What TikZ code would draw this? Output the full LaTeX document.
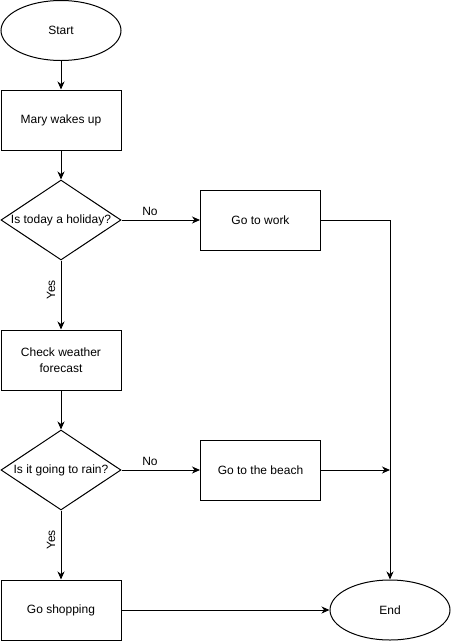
\documentclass[tikz,border=0pt]{standalone}
\usepackage{fontspec}
\setmainfont{Liberation Sans}
\usetikzlibrary{shapes.geometric,arrows.meta}
\begin{document}
\begin{tikzpicture}[x=1pt,y=-1pt,
  every node/.style={font=\fontsize{12}{14}\selectfont},
  box/.style={draw,line width=1pt,minimum width=120pt,minimum height=60pt,inner sep=0pt,align=center},
  term/.style={draw,ellipse,line width=1pt,minimum width=120pt,minimum height=60pt,inner sep=0pt},
  dia/.style={draw,diamond,line width=1pt,minimum width=120pt,minimum height=80pt,inner sep=0pt,aspect=1.5},
  conn/.style={line width=1pt,-{Stealth[length=8pt,width=7pt,inset=2.5pt]}},
  lbl/.style={inner sep=0pt}]
\useasboundingbox (0,0) rectangle (451,641);
\node[term] (start) at (61,30.5) {Start};
\node[box] (mary) at (61,120) {Mary wakes up};
\node[dia] (d1) at (61,220) {};
\node at (d1) {Is today a holiday?};
\node[box] (work) at (260.5,220) {Go to work};
\node[box] (check) at (61,360) {Check weather\\[2pt]forecast};
\node[dia] (d2) at (61,470) {};
\node at (d2) {Is it going to rain?};
\node[box] (beach) at (260.5,470) {Go to the beach};
\node[box] (shop) at (61,610) {Go shopping};
\node[term] (end) at (390,610) {End};
\coordinate (c1) at (390,220);
\coordinate (c2) at (390,470);
\draw[conn] (start) -- (mary);
\draw[conn] (mary) -- (d1);
\draw[conn] (d1.east) -- (work.west);
\node[lbl] (no1) at (150,211) {No};
\draw[conn] (d1.south) -- (check.north);
\node[lbl,rotate=90] (yes1) at (51,290) {Yes};
\draw[conn] (check) -- (d2);
\draw[conn] (d2.east) -- (beach.west);
\node[lbl] (no2) at (150,461) {No};
\draw[conn] (d2.south) -- (shop.north);
\node[lbl,rotate=90] (yes2) at (51,540) {Yes};
\draw[conn] (shop.east) -- (end.west);
\draw[conn] (work.east) -- (c1) -- (end.north);
\draw[conn] (beach.east) -- (c2);
\end{tikzpicture}
\end{document}
